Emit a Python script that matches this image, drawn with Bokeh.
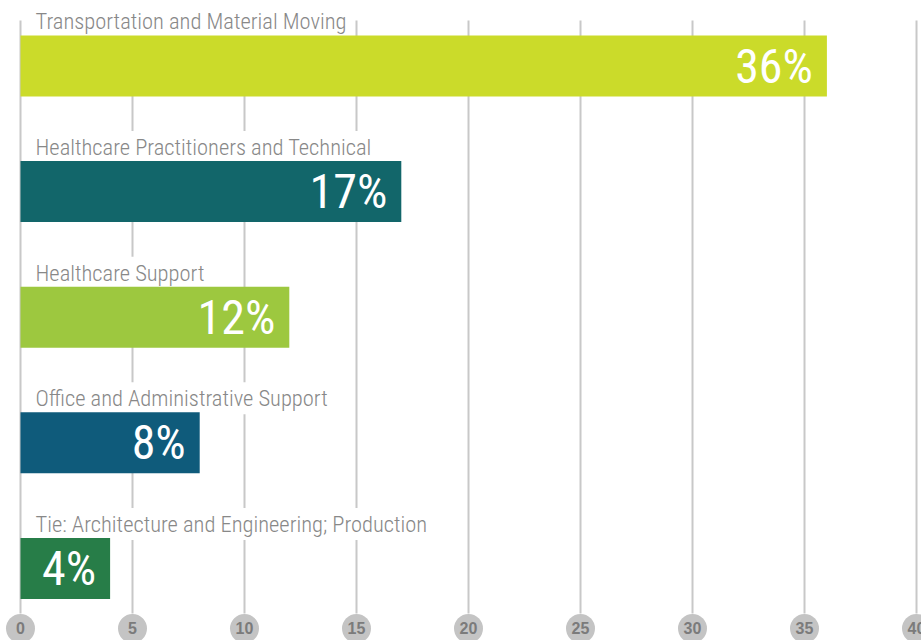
from bokeh.plotting import figure
from bokeh.models import Range1d
from bokeh.core.properties import value
from bokeh.embed import file_html
from bokeh.resources import INLINE

# ---- data ----
categories = [
    "Transportation and Material Moving",
    "Healthcare Practitioners and Technical",
    "Healthcare Support",
    "Office and Administrative Support",
    "Tie: Architecture and Engineering; Production",
]
values = [36, 17, 12, 8, 4]
pct_labels = ["36%", "17%", "12%", "8%", "4%"]
colors = ["#CBDB2A", "#12666A", "#9DC83F", "#0F5B7B", "#277D48"]
ticks = [0, 5, 10, 15, 20, 25, 30, 35, 40]
tick_labels = ["0", "5", "10", "15", "20", "25", "30", "35", "40"]

# ---- layout constants ----
ypos = list(range(len(categories)))
BAR_H = 0.486
GRID_TOP = -0.362
GRID_BOTTOM = 4.36
TICK_Y = 4.478
n = len(ticks)

p = figure(width=921, height=640, output_backend="svg", toolbar_location=None,
           x_range=Range1d(-0.893, 40.223), y_range=Range1d(4.574, -0.5215),
           min_border=0, x_axis_location=None, y_axis_location=None)
p.outline_line_color = None
p.grid.grid_line_color = None
p.background_fill_color = "white"

# grid lines
p.segment(x0=ticks, y0=[GRID_TOP] * n, x1=ticks, y1=[GRID_BOTTOM] * n,
          line_color="#c8c8c8", line_width=2)

# category labels with white background (hide grid lines)
p.text(x=[0] * len(categories), y=[y - BAR_H / 2 for y in ypos], text=categories,
       x_offset=12, y_offset=-14, text_baseline="alphabetic", text_align="left",
       text_font=value("Roboto Condensed Light"), text_font_size="22.5px",
       text_color="#888888", background_fill_color="white", padding=3)

# bars
p.hbar(y=ypos, left=0, right=values, height=BAR_H, fill_color=colors,
       line_color=None)

# percentage labels
p.text(x=values, y=ypos, text=pct_labels, x_offset=-14, text_align="right",
       text_baseline="middle", text_font=value("Roboto Condensed"),
       text_font_size="48px", text_color="white")

# tick circles
p.scatter(x=ticks, y=[TICK_Y] * n, size=29, fill_color="#c4c4c4", line_color=None)
p.text(x=ticks, y=[TICK_Y] * n, text=tick_labels, text_align="center",
       text_baseline="middle", text_font=value("Liberation Sans"),
       text_font_style="bold", text_font_size="16px", text_color="#7b7b7b")

open("out.html", "w").write(file_html(p, INLINE))
